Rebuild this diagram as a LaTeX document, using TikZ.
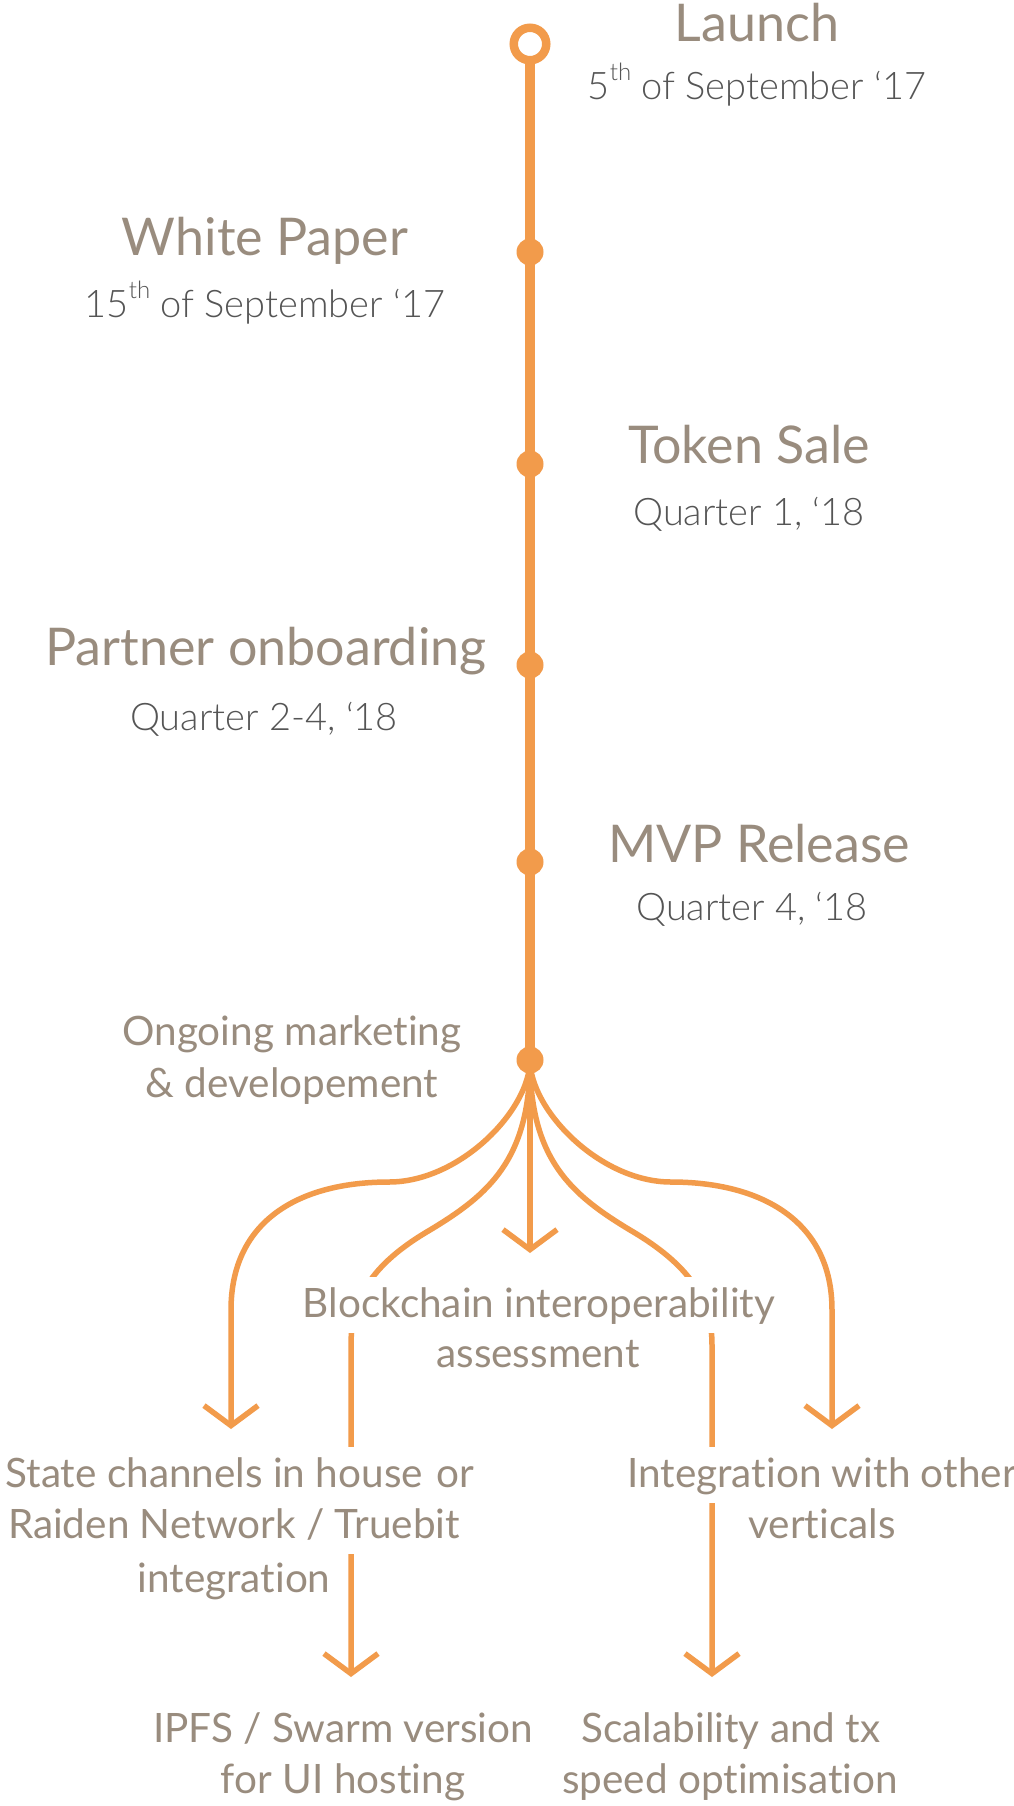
\documentclass[tikz,border=0pt]{standalone}
\usepackage{fontspec}
\setmainfont{Lato}[Ligatures=NoCommon]
\IfFontExistsTF{Lato Light}{\newfontfamily\lightfont{Lato Light}[Ligatures=NoCommon]}{\newfontfamily\lightfont{Lato}[Ligatures=NoCommon]}
\usetikzlibrary{arrows.meta}
\definecolor{roadorange}{HTML}{F29B4B}
\definecolor{titlegrey}{HTML}{998C7E}
\definecolor{dategrey}{HTML}{555555}
% raised ordinal suffix sized relative to the surrounding text
\newcommand\ordsup[1]{\raisebox{0.5em}{\fontsize{24}{24}\selectfont #1}}
\tikzset{
  trunk/.style={draw=roadorange, line width=10.5pt},
  ring/.style={circle, draw=roadorange, fill=white, line width=8.5pt, minimum size=32.5pt, inner sep=0pt},
  milestone/.style={circle, fill=roadorange, minimum size=27pt, inner sep=0pt},
  branch/.style={draw=roadorange, line width=5.5pt, -{Straight Barb[length=20pt, width=54pt]}},
  headline/.style={anchor=base, text=titlegrey, font=\fontsize{52}{62}\selectfont, inner sep=0pt},
  datetext/.style={anchor=base, text=dategrey, font=\lightfont\fontsize{38}{46}\selectfont, inner sep=0pt},
  note/.style={anchor=base, text=titlegrey, font=\fontsize{40.5}{48}\selectfont, fill=white, inner xsep=4pt, inner ysep=0pt, text height=40pt, text depth=16pt},
}
\begin{document}
\begin{tikzpicture}[x=1pt, y=-1pt]
\useasboundingbox (0,0) rectangle (1014,1806);
\fill[white] (0,0) rectangle (1014,1806);

% positions along the timeline
\coordinate (p0) at (530,44);
\coordinate (p1) at (530,252);
\coordinate (p2) at (530,464);
\coordinate (p3) at (530,665);
\coordinate (p4) at (530,862);
\coordinate (p5) at (530,1060);

% arrow ends of the branches
\coordinate (tipA) at (231,1429);
\coordinate (tipB) at (351,1677);
\coordinate (tipC) at (530,1253);
\coordinate (tipD) at (712,1677);
\coordinate (tipE) at (832,1429);

% main line
\draw[trunk] (p0) -- (p5);

% branches fanning out from the last milestone
\draw[branch] (p5) .. controls (530,1110) and (460,1182) .. (389,1182)
  .. controls (300,1182) and (231,1220) .. (231,1310) -- (tipA);
\draw[branch] (p5) .. controls (530,1160) and (488,1195) .. (430,1230)
  .. controls (370,1265) and (351,1300) .. (351,1345) -- (tipB);
\draw[branch] (p5) -- (tipC);
\draw[branch] (p5) .. controls (530,1160) and (572,1195) .. (630,1230)
  .. controls (690,1265) and (712,1300) .. (712,1345) -- (tipD);
\draw[branch] (p5) .. controls (530,1110) and (600,1182) .. (671,1182)
  .. controls (760,1182) and (832,1220) .. (832,1310) -- (tipE);

% milestone markers
\node[ring] (launch) at (p0) {};
\node[milestone] (wp) at (p1) {};
\node[milestone] (sale) at (p2) {};
\node[milestone] (partner) at (p3) {};
\node[milestone] (mvp) at (p4) {};
\node[milestone] (ongoing) at (p5) {};

% milestone captions
\node[headline] (t0) at (757,42) {Launch};
\node[datetext] (d0) at (757,100) {5\ordsup{th} of September ‘17};
\node[headline] (t1) at (265,255) {White Paper};
\node[datetext] (d1) at (265,317) {15\ordsup{th} of September ‘17};
\node[headline] (t2) at (749,463) {Token Sale};
\node[datetext] (d2) at (749,525) {Quarter 1, ‘18};
\node[headline] (t3) at (266,665) {Partner onboarding};
\node[datetext] (d3) at (264,730) {Quarter 2-4, ‘18};
\node[headline] (t4) at (759,862) {MVP Release};
\node[datetext] (d4) at (752,920) {Quarter 4, ‘18};

\node[note] (o1) at (292,1045) {Ongoing marketing};
\node[note] (o2) at (292,1097) {\& developement};

% branch captions (white backing interrupts the lines)
\node[note] (b1) at (539,1317) {Blockchain interoperability};
\node[note] (b2) at (538,1367) {assessment};
\node[note] (s1) at (240,1487) {State channels in house\hspace{14pt}or};
\node[note] (s2) at (234,1538) {Raiden Network / Truebit};
\node[note] (s3) at (234,1592) {integration};
\node[note] (i1) at (822,1487) {Integration with other};
\node[note] (i2) at (822,1538) {verticals};
\node[note] (f1) at (343,1742) {IPFS / Swarm version};
\node[note] (f2) at (343,1793) {for UI hosting};
\node[note] (c1) at (731,1742) {Scalability and tx};
\node[note] (c2) at (730,1793) {speed optimisation};
\end{tikzpicture}
\end{document}
